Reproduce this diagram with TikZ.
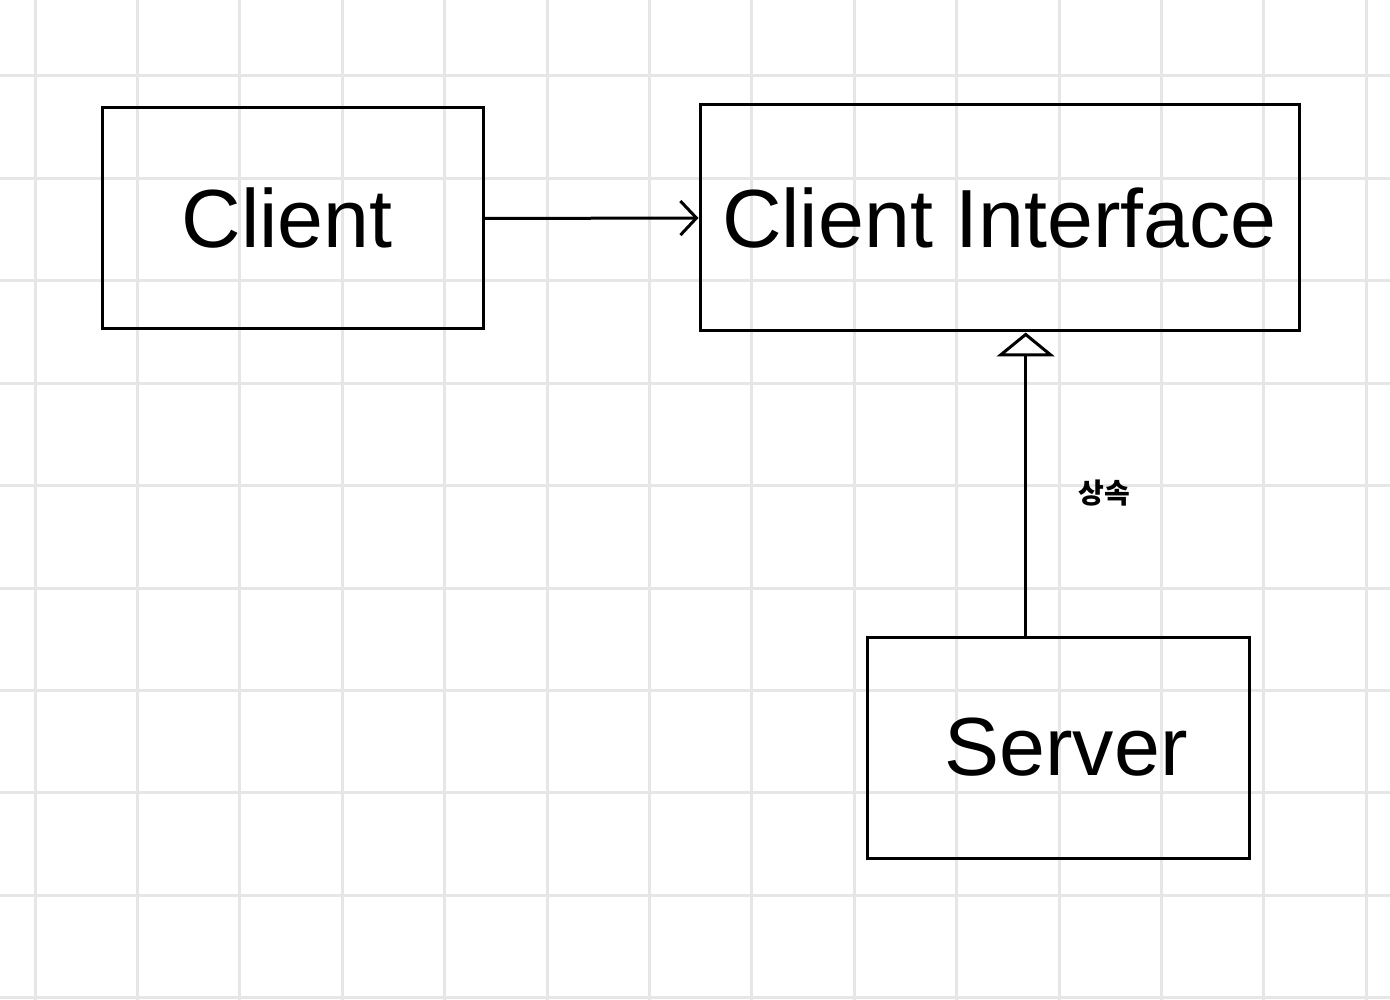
\documentclass[tikz,border=0pt]{standalone}
\usepackage{fontspec}
\setmainfont{Liberation Sans}
\newfontfamily\cjk{Noto Sans CJK KR}
\usetikzlibrary{arrows.meta,calc}
\definecolor{gridc}{RGB}{230,230,230}
\tikzset{
  umlbox/.style={draw=black, line width=3pt, inner sep=0pt, fill=none,
    font=\fontsize{82.5}{99}\selectfont},
  assoc/.style={draw=black, line width=3pt, -{Straight Barb[length=16pt,width=34pt,line width=3pt]}},
  inh/.style={draw=black, line width=3pt, -{Triangle[open,length=24pt,width=58pt,line width=3pt,fill=white]}},
  gridline/.style={draw=gridc, line width=3pt},
  lbl/.style={font=\cjk\bfseries\fontsize{28}{32}\selectfont, inner sep=0pt}
}
\begin{document}
\begin{tikzpicture}[x=1pt,y=-1pt]
\useasboundingbox (0,0) rectangle (1390,1000);
\fill[white] (0,0) rectangle (1390,1000);
\foreach \i in {0,...,13} {\draw[gridline] ({35+102.4*\i},0) -- ({35+102.4*\i},1000);}
\foreach \j in {0,...,9} {\draw[gridline] (0,{76+102.4*\j}) -- (1390,{76+102.4*\j});}
\node[umlbox, minimum width=381pt, minimum height=221pt] (client) at (292.5,218.5) {\hspace*{-11pt}Client};
\node[umlbox, minimum width=599pt, minimum height=226pt] (iface) at (999.5,218) {Client Interface};
\node[umlbox, minimum width=382pt, minimum height=221pt] (srv) at (1058,747.5) {\hspace*{16pt}Server};
\draw[assoc] (client.east) -- (iface.west);
\coordinate (sup) at ($(srv.north west)!0.416!(srv.north east)$);
\draw[inh] (sup) -- (sup |- iface.south);
\node[lbl] (l1) at (1104,493) {상속};
\end{tikzpicture}
\end{document}
